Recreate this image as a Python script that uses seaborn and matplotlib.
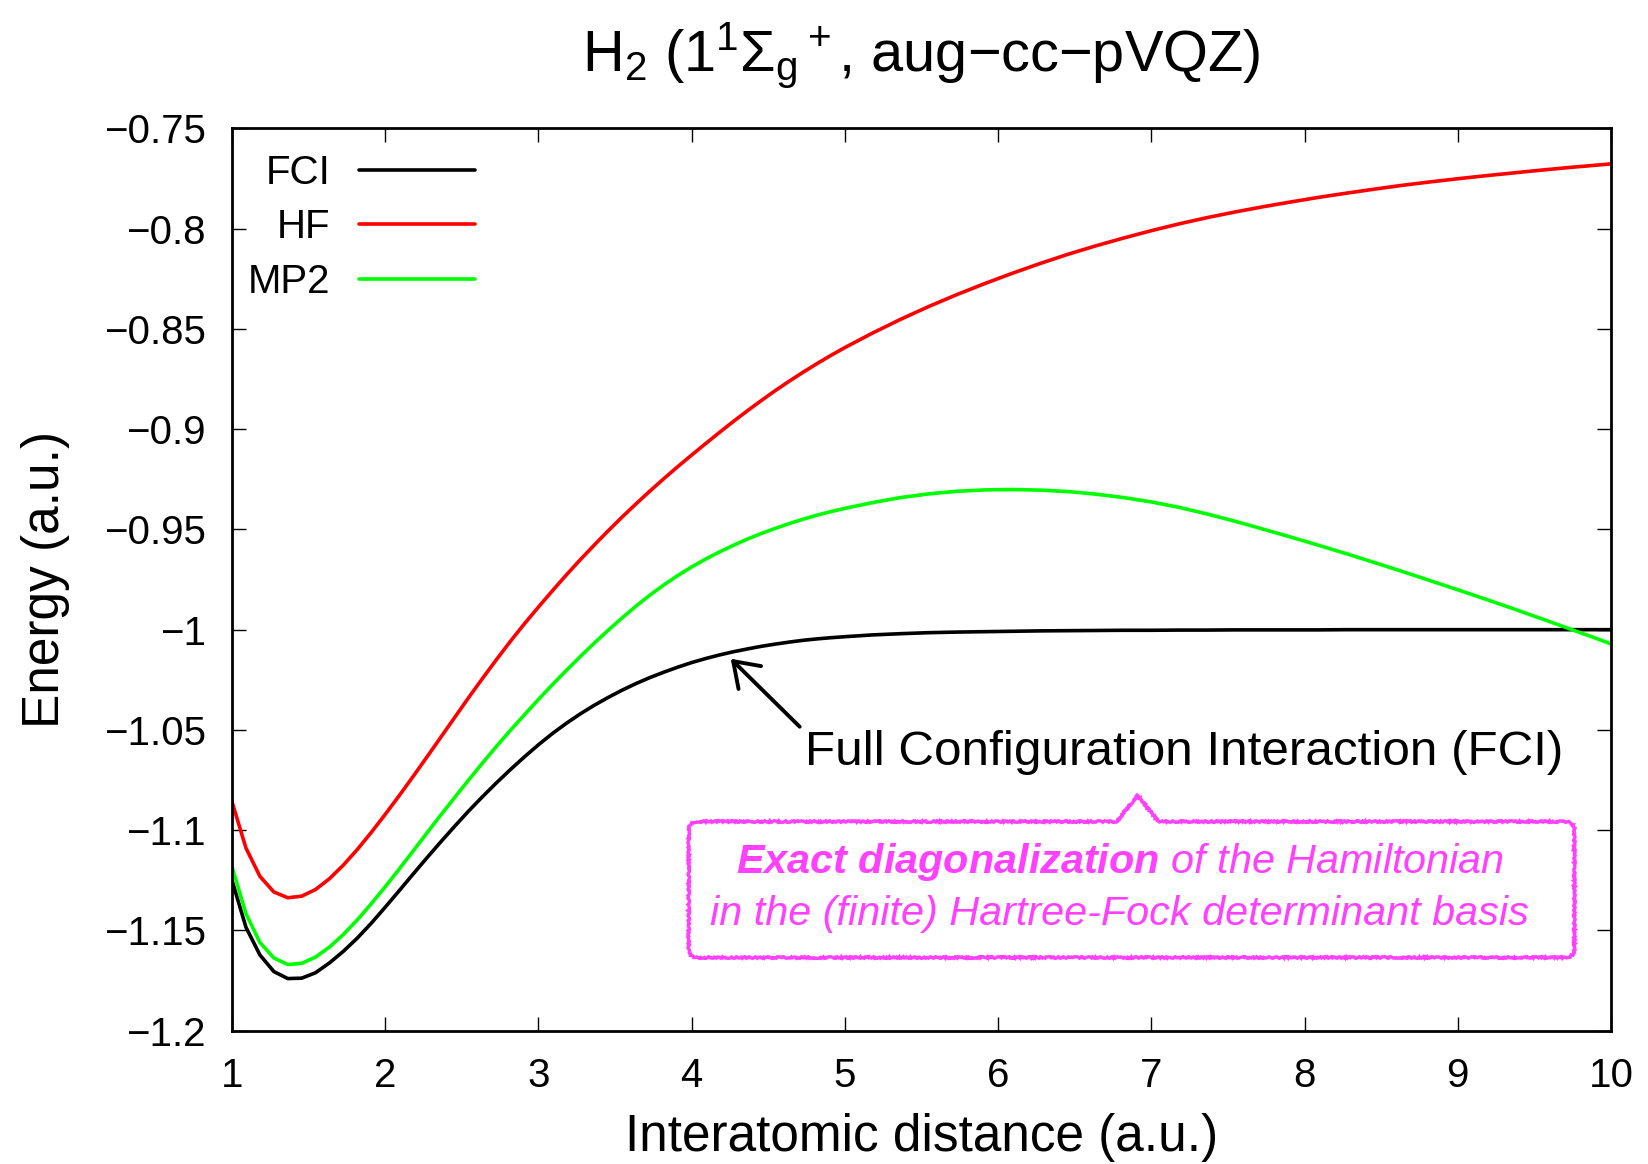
import matplotlib
matplotlib.use("Agg")
import matplotlib.pyplot as plt
import seaborn as sns
import pandas as pd
from matplotlib.path import Path
from matplotlib.patches import PathPatch

# ---------------- data ----------------
distance = [1.000, 1.091, 1.182, 1.273, 1.364, 1.455, 1.545, 1.636, 1.727, 1.818,
            1.909, 2.000, 2.091, 2.182, 2.273, 2.364, 2.455, 2.545, 2.636, 2.727,
            2.818, 2.909, 3.000, 3.091, 3.182, 3.273, 3.364, 3.455, 3.545, 3.636,
            3.727, 3.818, 3.909, 4.000, 4.091, 4.182, 4.273, 4.364, 4.455, 4.545,
            4.636, 4.727, 4.818, 4.909, 5.000, 5.182, 5.364, 5.545, 5.727, 5.909,
            6.091, 6.273, 6.455, 6.636, 6.818, 7.000, 7.182, 7.364, 7.545, 7.727,
            7.909, 8.091, 8.273, 8.455, 8.636, 8.818, 9.000, 9.182, 9.364, 9.545,
            9.727, 9.909, 10.000]

e_fci = [-1.1250, -1.1484, -1.1622, -1.1705, -1.1740, -1.1738, -1.1711, -1.1662, -1.1604, -1.1538,
         -1.1464, -1.1384, -1.1302, -1.1219, -1.1137, -1.1057, -1.0979, -1.0904, -1.0832, -1.0763,
         -1.0697, -1.0634, -1.0574, -1.0518, -1.0467, -1.0420, -1.0377, -1.0338, -1.0302, -1.0269,
         -1.0239, -1.0212, -1.0187, -1.0164, -1.0144, -1.0126, -1.0110, -1.0096, -1.0083, -1.0072,
         -1.0062, -1.0053, -1.0046, -1.0040, -1.0035, -1.0026, -1.0020, -1.0015, -1.0012, -1.0010,
         -1.0008, -1.0006, -1.0005, -1.0004, -1.0003, -1.0003, -1.0002, -1.0002, -1.0001, -1.0001,
         -1.0001, -1.0001, -1.0000, -1.0000, -1.0000, -1.0000, -1.0000, -1.0000, -1.0000, -1.0000,
         -1.0000, -1.0000, -1.0000]

e_hf = [-1.0858, -1.1089, -1.1230, -1.1308, -1.1337, -1.1329, -1.1296, -1.1242, -1.1174, -1.1096,
        -1.1011, -1.0921, -1.0828, -1.0732, -1.0634, -1.0535, -1.0436, -1.0338, -1.0242, -1.0148,
        -1.0057, -0.9970, -0.9887, -0.9806, -0.9727, -0.9651, -0.9578, -0.9507, -0.9439, -0.9373,
        -0.9309, -0.9247, -0.9187, -0.9129, -0.9072, -0.9016, -0.8961, -0.8908, -0.8857, -0.8808,
        -0.8761, -0.8716, -0.8673, -0.8632, -0.8593, -0.8520, -0.8452, -0.8389, -0.8330, -0.8275,
        -0.8223, -0.8174, -0.8128, -0.8086, -0.8047, -0.8010, -0.7976, -0.7945, -0.7917, -0.7891,
        -0.7867, -0.7844, -0.7823, -0.7803, -0.7784, -0.7767, -0.7751, -0.7736, -0.7722, -0.7708,
        -0.7695, -0.7683, -0.7677]

e_mp2 = [-1.1182, -1.1416, -1.1560, -1.1637, -1.1670, -1.1664, -1.1633, -1.1583, -1.1520, -1.1447,
         -1.1367, -1.1282, -1.1194, -1.1104, -1.1013, -1.0923, -1.0835, -1.0749, -1.0664, -1.0581,
         -1.0501, -1.0424, -1.0348, -1.0274, -1.0203, -1.0134, -1.0067, -1.0003, -0.9942, -0.9883,
         -0.9828, -0.9777, -0.9730, -0.9687, -0.9648, -0.9612, -0.9579, -0.9548, -0.9520, -0.9495,
         -0.9471, -0.9449, -0.9429, -0.9411, -0.9395, -0.9366, -0.9341, -0.9323, -0.9310, -0.9303,
         -0.9301, -0.9304, -0.9311, -0.9324, -0.9341, -0.9363, -0.9390, -0.9423, -0.9459, -0.9498,
         -0.9538, -0.9579, -0.9621, -0.9665, -0.9709, -0.9755, -0.9801, -0.9848, -0.9896, -0.9945,
         -0.9995, -1.0045, -1.0071]

series_names = ["FCI", "HF", "MP2"]
series_colors = ["#000000", "#ff0000", "#00ff00"]

xticks = [1, 2, 3, 4, 5, 6, 7, 8, 9, 10]
xtick_labels = ["1", "2", "3", "4", "5", "6", "7", "8", "9", "10"]
yticks = [-0.75, -0.8, -0.85, -0.9, -0.95, -1.0, -1.05, -1.1, -1.15, -1.2]
ytick_labels = ["\u22120.75", "\u22120.8", "\u22120.85", "\u22120.9", "\u22120.95",
                "\u22121", "\u22121.05", "\u22121.1", "\u22121.15", "\u22121.2"]

title_text = "H$_2$ (1$^1$\u03a3$_\\mathrm{g}$$^+$, aug\u2212cc\u2212pVQZ)"
xlabel_text = "Interatomic distance (a.u.)"
ylabel_text = "Energy (a.u.)"
fci_note = "Full Configuration Interaction (FCI)"
box_line1 = "$\\mathbf{Exact\\ diagonalization}$ of the Hamiltonian"
box_line2 = "in the (finite) Hartree-Fock determinant basis"

# annotation placement (data coordinates)
note_xy = (4.738, -1.0673)
arrow_tail = (4.705, -1.0484)
arrow_tip = (4.255, -1.0145)
box_left, box_right, box_top, box_bottom = 3.981, 9.761, -1.0957, -1.1635
notch_x0, notch_x1, notch_apex = 6.773, 7.047, (6.910, -1.0827)
box_text_x = 6.793
box_line1_y, box_line2_y = -1.1212, -1.1474
magenta = "#ff40ff"

# ---------------- style ----------------
sns.set_theme(style="ticks")
plt.rcParams["font.family"] = ["Liberation Sans", "DejaVu Sans"]
plt.rcParams.update({
    "mathtext.fontset": "custom",
    "mathtext.rm": "Liberation Sans",
    "mathtext.it": "Liberation Sans:italic",
    "mathtext.bf": "Liberation Sans:italic:bold",
    "axes.unicode_minus": True,
    "text.color": "black",
    "axes.labelcolor": "black",
    "axes.titlecolor": "black",
    "xtick.color": "black",
    "ytick.color": "black",
    "axes.edgecolor": "black",
})

W, H = 1648, 1164
fig = plt.figure(figsize=(W / 100, H / 100), dpi=100)
ax = fig.add_axes([232 / W, 1 - 1030.7 / H, (1611 - 232) / W, (1030.7 - 128.4) / H])

df = pd.DataFrame({"distance": distance, "FCI": e_fci, "HF": e_hf, "MP2": e_mp2})
for name, col in zip(series_names, series_colors):
    sns.lineplot(data=df, x="distance", y=name, color=col, lw=2.6, label=name,
                 ax=ax, sort=False, estimator=None)

ax.set_xlim(1, 10)
ax.set_ylim(-1.2, -0.75)
ax.set_xticks(xticks)
ax.set_xticklabels(xtick_labels)
ax.set_yticks(yticks)
ax.set_yticklabels(ytick_labels)
ax.tick_params(direction="in", length=10, width=1.0, top=True, right=True,
               labelsize=29, pad=19, color="black", labelcolor="black")
for s in ax.spines.values():
    s.set_linewidth(2.0)
    s.set_color("black")

ax.set_title(title_text, fontsize=41.5, pad=41, color="black")
ax.set_xlabel(xlabel_text, fontsize=37, labelpad=13, color="black")
ax.set_ylabel(ylabel_text, fontsize=37, labelpad=24, color="black")

leg = ax.legend(loc="upper left", bbox_to_anchor=(0.0116, 0.972), markerfirst=False,
                frameon=False, fontsize=29, handlelength=2.88, handletextpad=0.7,
                labelspacing=0.41, borderpad=0, borderaxespad=0)
for t in leg.get_texts():
    t.set_color("black")

# FCI note with arrow
ax.text(note_xy[0], note_xy[1], fci_note, fontsize=35.6, ha="left", va="baseline", color="black")
ax.annotate("", xy=arrow_tip, xytext=arrow_tail,
            arrowprops=dict(arrowstyle="->, head_length=0.8, head_width=0.55",
                            lw=2.8, color="black", mutation_scale=21,
                            shrinkA=0, shrinkB=0))

# callout box (rounded rectangle with pointer), built in display space
tr = ax.transData
(L, B) = tr.transform((box_left, box_bottom))
(R, T) = tr.transform((box_right, box_top))
(n0, _) = tr.transform((notch_x0, box_top))
(n1, _) = tr.transform((notch_x1, box_top))
(ax_, ay_) = tr.transform(notch_apex)
r = 9
verts = [(L + r, T), (n0, T), (ax_, ay_), (n1, T), (R - r, T),
         (R, T), (R, T - r), (R, B + r), (R, B), (R - r, B),
         (L + r, B), (L, B), (L, B + r), (L, T - r), (L, T), (L + r, T)]
codes = [Path.MOVETO, Path.LINETO, Path.LINETO, Path.LINETO, Path.LINETO,
         Path.CURVE3, Path.CURVE3, Path.LINETO, Path.CURVE3, Path.CURVE3,
         Path.LINETO, Path.CURVE3, Path.CURVE3, Path.LINETO, Path.CURVE3, Path.CURVE3]
patch = PathPatch(Path(verts, codes), facecolor="none", edgecolor=magenta, lw=2.4,
                  transform=None, clip_on=False)
patch.set_sketch_params(scale=0.8, length=3, randomness=4)
fig.add_artist(patch)

ax.text(box_text_x, box_line1_y, box_line1, fontsize=29.8, style="italic",
        ha="center", va="baseline", color=magenta)
ax.text(box_text_x, box_line2_y, box_line2, fontsize=29.8, style="italic",
        ha="center", va="baseline", color=magenta)

fig.savefig("out.png", dpi=100)
